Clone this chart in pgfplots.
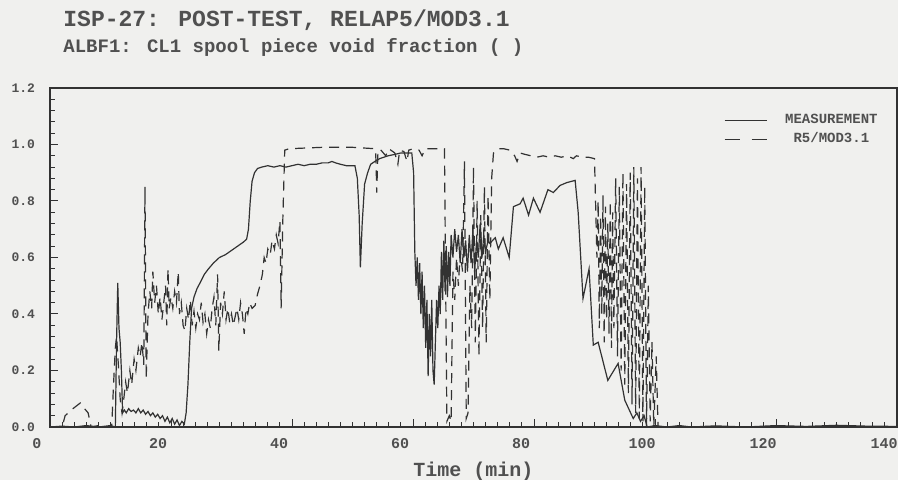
\documentclass[border=0pt]{standalone}
\usepackage{fontspec}
\setmainfont{Liberation Mono}
\usepackage{pgfplots}
\pgfplotsset{compat=1.18}
\usepackage{pgfplotstable}
\definecolor{bg}{RGB}{240,240,238}
\definecolor{ink}{RGB}{50,50,50}
\definecolor{txt}{RGB}{80,80,80}

\pgfplotstableread{
x y
0 0.0
2 0.003
4 0.0
6 0.005
8 0.0
10 0.005
10.8 0.0
11.0 0.30
11.2 0.51
11.4 0.35
11.6 0.30
11.8 0.20
12.0 0.05
12.3 0.06
12.6 0.05
13.0 0.065
13.4 0.055
13.8 0.06
14.2 0.05
14.6 0.065
15.0 0.05
15.4 0.06
15.8 0.045
16.2 0.055
16.6 0.04
17.0 0.05
17.4 0.035
17.8 0.045
18.2 0.03
18.6 0.04
19.0 0.02
19.4 0.035
19.8 0.015
20.2 0.03
20.6 0.01
21.0 0.025
21.4 0.005
21.8 0.02
22.2 0.01
22.5 0.05
22.8 0.15
23.1 0.30
23.4 0.42
23.8 0.46
24.3 0.49
24.8 0.51
25.5 0.54
26.2 0.56
27.0 0.58
28.0 0.60
29.0 0.61
30.0 0.625
31.0 0.64
32.0 0.655
32.5 0.665
32.8 0.70
33.1 0.80
33.4 0.87
33.8 0.90
34.3 0.915
35 0.92
36 0.925
37 0.92
38 0.925
39 0.92
40 0.925
41 0.93
42 0.925
43 0.93
44 0.93
45 0.935
46 0.935
46.6 0.94
47.2 0.935
48 0.93
49 0.925
50.4 0.925
50.8 0.88
51.1 0.75
51.3 0.565
51.6 0.72
52 0.86
52.5 0.90
53 0.93
53.7 0.94
54.5 0.95
55.9 0.96
57 0.965
58 0.97
59 0.97
59.8 0.97
60.1 0.90
60.3 0.62
60.5 0.50
60.7 0.60
60.9 0.45
61.1 0.58
61.3 0.40
61.5 0.55
61.7 0.35
61.9 0.50
62.1 0.28
62.3 0.45
62.5 0.18
62.7 0.40
62.9 0.25
63.1 0.45
63.3 0.20
63.5 0.15
63.7 0.30
63.9 0.45
64.1 0.35
64.3 0.50
64.5 0.40
64.7 0.62
64.9 0.45
65.1 0.66
65.3 0.48
65.5 0.64
65.7 0.46
65.9 0.62
66.1 0.50
66.3 0.68
66.6 0.60
66.9 0.70
67.2 0.62
67.5 0.68
67.8 0.58
68.1 0.70
68.4 0.60
68.7 0.66
69.0 0.55
69.3 0.68
69.6 0.58
69.9 0.70
70.2 0.55
70.5 0.66
70.8 0.60
71.1 0.72
71.4 0.60
71.7 0.68
72.0 0.62
72.4 0.66
72.7 0.65
73.6 0.67
74.1 0.63
74.9 0.67
75.9 0.60
76.6 0.78
77.7 0.79
78.2 0.81
79.1 0.75
79.9 0.81
81.0 0.76
82.3 0.84
83.2 0.83
84.3 0.855
85.4 0.865
86.8 0.873
87.3 0.76
88.1 0.455
89.1 0.56
89.8 0.29
90.6 0.30
92.2 0.165
93.9 0.225
95.0 0.095
96.4 0.03
97.0 0.05
97.6 0.02
98.2 0.04
98.7 0.0
100 0.005
102 0.0
104 0.005
106 0.0
110 0.004
115 0.0
120 0.005
125 0.002
130 0.006
135 0.003
140 0.002
}\meas

\pgfplotstableread{
x y
0 0.0
2 0.0
2.5 0.04
3.5 0.06
5 0.085
5.5 0.07
6.3 0.05
6.8 0.0
8 0.005
9 0.0
10.2 0.0
10.5 0.15
10.8 0.28
11.0 0.32
11.3 0.22
11.6 0.10
11.9 0.05
12.2 0.10
12.5 0.16
12.8 0.12
13.2 0.20
13.5 0.15
13.9 0.24
14.2 0.20
14.6 0.28
14.9 0.25
15.2 0.30
15.5 0.22
15.7 0.85
15.9 0.17
16.2 0.40
16.5 0.48
16.8 0.42
17.0 0.55
17.3 0.44
17.6 0.50
17.9 0.40
18.2 0.46
18.5 0.38
18.8 0.44
19.1 0.50
19.3 0.36
19.5 0.56
19.7 0.42
20.0 0.46
20.3 0.42
20.6 0.48
20.9 0.44
21.2 0.55
21.4 0.40
21.7 0.44
22.0 0.36
22.3 0.34
22.6 0.42
22.9 0.38
23.2 0.45
23.5 0.36
23.8 0.41
24.1 0.35
24.4 0.40
24.7 0.38
25.0 0.44
25.3 0.37
25.6 0.40
25.9 0.33
26.2 0.38
26.5 0.35
26.8 0.42
27.1 0.46
27.4 0.36
27.7 0.54
27.9 0.27
28.2 0.44
28.5 0.40
28.8 0.48
29.1 0.38
29.4 0.42
29.7 0.37
30.0 0.40
30.3 0.36
30.6 0.39
30.9 0.42
31.2 0.38
31.5 0.44
31.8 0.40
32.1 0.33
32.4 0.42
32.7 0.40
33.0 0.44
33.4 0.42
33.9 0.43
34.3 0.47
34.7 0.50
35.1 0.54
35.4 0.60
35.7 0.58
36.0 0.63
36.4 0.61
36.7 0.66
37.1 0.63
37.4 0.68
37.7 0.65
38.0 0.73
38.2 0.42
38.5 0.75
38.8 0.98
39.5 0.985
45 0.99
50 0.99
53.8 0.985
53.9 0.93
54.0 0.83
54.2 0.97
54.5 0.985
55.5 0.96
56 0.985
57 0.97
57.5 0.93
57.8 0.98
58.5 0.975
59 0.94
59.3 0.98
60 0.985
61 0.98
61.5 0.96
62 0.985
63 0.985
64 0.985
65.2 0.985
65.6 0.02
66.0 0.04
66.3 0.02
66.6 0.55
66.9 0.45
67.2 0.60
67.5 0.50
67.8 0.62
68.2 0.55
68.5 0.94
68.8 0.03
69.1 0.05
69.4 0.50
69.7 0.35
70.0 0.92
70.3 0.30
70.6 0.80
70.9 0.25
71.2 0.75
71.5 0.35
71.8 0.85
72.1 0.30
72.4 0.82
72.7 0.45
73.0 0.88
73.3 0.97
74 0.985
75 0.985
76 0.98
76.8 0.96
77.2 0.94
77.7 0.97
78.5 0.965
79.5 0.96
80.5 0.955
81.5 0.96
82.5 0.955
83.5 0.96
84.5 0.955
85.5 0.96
86.5 0.95
87 0.96
88 0.955
89 0.955
90 0.95
90.4 0.60
90.6 0.80
90.8 0.35
91.0 0.75
91.2 0.40
91.4 0.82
91.6 0.30
91.8 0.78
92.0 0.38
92.2 0.72
92.4 0.33
92.6 0.80
92.8 0.28
93.0 0.76
93.2 0.35
93.5 0.88
93.8 0.25
94.1 0.85
94.4 0.20
94.7 0.90
95.0 0.15
95.3 0.86
95.6 0.12
95.9 0.90
96.2 0.08
96.5 0.92
96.8 0.05
97.1 0.88
97.4 0.03
97.7 0.92
98.0 0.02
98.3 0.85
98.6 0.0
98.9 0.50
99.2 0.02
99.5 0.30
99.8 0.0
100.2 0.25
100.5 0.0
102 0.0
140 0.0
}\rfive

\begin{document}
\begin{tikzpicture}
\fill[bg] (0,0) rectangle (449pt,240pt);
\path[use as bounding box] (0,0) rectangle (449pt,240pt);
\node[anchor=base west, inner sep=0pt, text=txt, font=\fontsize{11.5}{13}\selectfont\bfseries] at (31.5pt,226.5pt) {ISP-27: POST-TEST, RELAP5/MOD3.1};
\node[anchor=base west, inner sep=0pt, text=txt, font=\fontsize{9.5}{11}\selectfont\bfseries] at (31.5pt,213.5pt) {ALBF1: CL1 spool piece void fraction ( )};
\begin{axis}[
  scale only axis,
  width=423.5pt, height=169.5pt,
  at={(25pt,26.5pt)}, anchor=south west,
  xmin=0, xmax=140, ymin=0, ymax=1.2,
  xtick={0,20,40,60,80,100,120,140},
  ytick={0,0.2,0.4,0.6,0.8,1.0,1.2},
  minor x tick num=9, minor y tick num=4,
  tick align=inside, tick pos=left,
  major tick length=4pt, minor tick length=2.5pt,
  axis line style={ink, line width=0.6pt},
  tick style={ink, line width=0.5pt},
  /pgf/number format/assume math mode=true,
  yticklabel style={/pgf/number format/fixed, /pgf/number format/fixed zerofill, /pgf/number format/precision=1, font=\fontsize{6.5}{7}\selectfont\bfseries, text=txt, xshift=-4pt},
  xticklabel style={font=\fontsize{7.5}{8.5}\selectfont\bfseries, text=txt, xshift=-6.5pt, yshift=-2pt},
  xlabel={Time (min)},
  xlabel style={at={(axis description cs:0.5,0)}, anchor=base, yshift=-25pt, font=\fontsize{10}{11}\selectfont\bfseries, text=txt},
  legend style={at={(1,1)}, anchor=north east, xshift=-4.5pt, yshift=-9pt, draw=none, fill=none, font=\fontsize{7}{8}\selectfont\bfseries, text=txt, row sep=-1pt,
    /tikz/every odd column/.append style={column sep=7pt}},
  legend cell align=center,
  legend image code/.code={\draw[#1] (0pt,0pt) -- (21pt,0pt);},
]
\addplot[ink, line width=0.6pt] table[x=x,y=y] {\meas};
\addlegendentry{MEASUREMENT}
\addplot[ink, line width=0.6pt, dash pattern=on 5pt off 3.5pt, legend image post style={dash pattern=on 7.5pt off 6pt}] table[x=x,y=y] {\rfive};
\addlegendentry{R5/MOD3.1}
\end{axis}
\end{tikzpicture}
\end{document}
